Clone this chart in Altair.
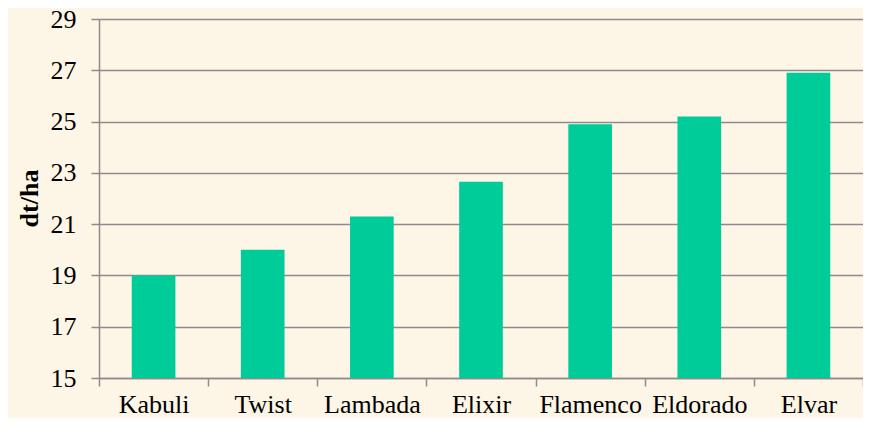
import altair as alt
import pandas as pd

varieties = ["Kabuli", "Twist", "Lambada", "Elixir", "Flamenco", "Eldorado", "Elvar"]
yields = [19.0, 20.0, 21.3, 22.65, 24.9, 25.2, 26.9]
y_ticks = [15, 17, 19, 21, 23, 25, 27, 29]

df = pd.DataFrame({"variety": varieties, "yield": yields})

FONT = "Liberation Serif"
GRAY = "#8c8c8c"

chart = alt.Chart(df).mark_bar(
    color="#00CC99", width=alt.RelativeBandSize(0.4), clip=True
).encode(
    x=alt.X("variety:N", sort=varieties,
            scale=alt.Scale(paddingInner=0, paddingOuter=0),
            axis=alt.Axis(title=None, labelAngle=0, tickBand="extent",
                          labelFont=FONT, labelFontSize=26, labelColor="black",
                          labelBaseline="alphabetic", labelPadding=26,
                          tickSize=8, tickColor=GRAY, tickWidth=1.5,
                          domainColor=GRAY, domainWidth=1.5, grid=False)),
    y=alt.Y("yield:Q", scale=alt.Scale(domain=[15, 29], nice=False, zero=False),
            axis=alt.Axis(title="dt/ha", values=y_ticks, format="d",
                          labelFont=FONT, labelFontSize=26, labelColor="black",
                          labelPadding=15, tickSize=8, tickColor=GRAY, tickWidth=1.5,
                          domainColor=GRAY, domainWidth=1.5,
                          grid=True, gridColor=GRAY, gridWidth=1.5,
                          titleFont=FONT, titleFontSize=26, titleFontWeight="bold",
                          titleColor="black", titleAngle=270, titleX=-70, titleY=179,
                          titleAlign="center", titleBaseline="middle")),
).properties(
    width=764, height=359,
    autosize="none",
    padding={"left": 91, "top": 11, "right": 0, "bottom": 40},
    background="#FDF5E6",
).configure_view(stroke=None)

chart.save("out.html", embed_options={"renderer": "svg", "actions": False})
